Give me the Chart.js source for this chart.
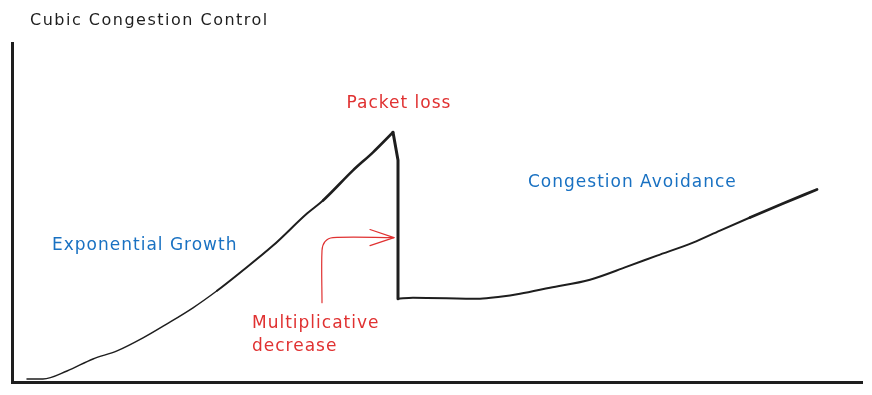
<!DOCTYPE html>
<html>
<head>
<meta charset="utf-8">
<script src="https://cdn.jsdelivr.net/npm/chart.js@4/dist/chart.umd.min.js"></script>
<style>
  html, body { margin: 0; padding: 0; background: #fff; }
  #wrap { width: 872px; height: 395px; }
</style>
</head>
<body>
<div id="wrap"><canvas id="cubic"></canvas></div>
<script>
// congestion window over time (arbitrary units)
const growthTime = [15, 31, 55, 81, 105, 131, 155, 181, 205, 228, 261, 295, 311, 341, 361, 381];
const growthValue = [3, 3, 11, 23, 31, 44, 58, 74, 91, 109, 136, 168, 181, 211, 229, 249];

const dropTime = [381, 386, 386];
const dropValue = [249, 221, 83];

const avoidTime = [386, 401, 468, 488, 508, 538, 578, 615, 645, 681, 708, 738, 771, 805];
const avoidValue = [83, 84, 83, 85, 88, 94, 102, 115, 126, 139, 151, 164, 178, 192];

// red arrow pointing at the drop
const arrowTime = [310, 310, 313, 321, 382];
const arrowValue = [79, 131, 140, 144, 144];
const arrowHeadTime = [358, 382, 358];
const arrowHeadValue = [152, 144, 136];

const labels = [
  { text: 'Packet loss', x: 387, y: 278, color: '#e03131', align: 'center' },
  { text: 'Exponential Growth', x: 40, y: 136, color: '#1971c2', align: 'left' },
  { text: 'Congestion Avoidance', x: 516, y: 199, color: '#1971c2', align: 'left' },
  { text: 'Multiplicative', x: 240, y: 58, color: '#e03131', align: 'left' },
  { text: 'decrease', x: 240, y: 35, color: '#e03131', align: 'left' }
];
const chartTitle = 'Cubic Congestion Control';

const toPoints = (xs, ys) => xs.map((x, i) => ({ x, y: ys[i] }));

const FONT = '"DejaVu Sans", sans-serif';

const sketchText = {
  id: 'sketchText',
  afterDatasetsDraw(chart) {
    const { ctx, scales } = chart;
    ctx.save();
    ctx.textBaseline = 'middle';
    ctx.font = '16px ' + FONT;
    ctx.letterSpacing = '1.5px';
    ctx.fillStyle = '#1e1e1e';
    ctx.textAlign = 'left';
    ctx.fillText(chartTitle, 30, 21);

    ctx.font = '17px ' + FONT;
    ctx.letterSpacing = '1px';
    labels.forEach(l => {
      ctx.fillStyle = l.color;
      ctx.textAlign = l.align;
      ctx.fillText(l.text, scales.x.getPixelForValue(l.x), scales.y.getPixelForValue(l.y));
    });
    ctx.restore();
  }
};

const pen = (xs, ys, color, width, extra) => Object.assign({
  data: toPoints(xs, ys),
  borderColor: color,
  borderWidth: width,
  borderCapStyle: 'round',
  borderJoinStyle: 'round',
  pointRadius: 0,
  cubicInterpolationMode: 'monotone',
  clip: false
}, extra || {});

new Chart(document.getElementById('cubic').getContext('2d'), {
  type: 'line',
  data: {
    datasets: [
      pen(growthTime, growthValue, '#1e1e1e', 2, {
        segment: { borderWidth: c => c.p0.parsed.x < 190 ? 1.5 : (c.p0.parsed.x < 300 ? 2 : 2.6) }
      }),
      pen(dropTime, dropValue, '#1e1e1e', 3, { cubicInterpolationMode: 'default', tension: 0 }),
      pen(avoidTime, avoidValue, '#1e1e1e', 2, {
        segment: { borderWidth: c => c.p0.parsed.x > 720 ? 2.8 : 2 }
      }),
      pen(arrowTime, arrowValue, '#e03131', 1.2, { cubicInterpolationMode: 'default', tension: 0.3 }),
      pen(arrowHeadTime, arrowHeadValue, '#e03131', 1.2, { cubicInterpolationMode: 'default', tension: 0 })
    ]
  },
  options: {
    responsive: true,
    maintainAspectRatio: false,
    animation: false,
    parsing: false,
    layout: { padding: { left: 12, right: 10, top: 43, bottom: 13 } },
    scales: {
      x: {
        type: 'linear',
        min: 0,
        max: 850,
        ticks: { display: false },
        grid: { display: false, drawTicks: false },
        border: { display: true, color: '#1e1e1e', width: 3 }
      },
      y: {
        min: 0,
        max: 338,
        ticks: { display: false },
        grid: { display: false, drawTicks: false },
        border: { display: true, color: '#1e1e1e', width: 3 }
      }
    },
    plugins: {
      legend: { display: false },
      tooltip: { enabled: false },
      title: { display: false }
    }
  },
  plugins: [sketchText]
});
</script>
</body>
</html>
